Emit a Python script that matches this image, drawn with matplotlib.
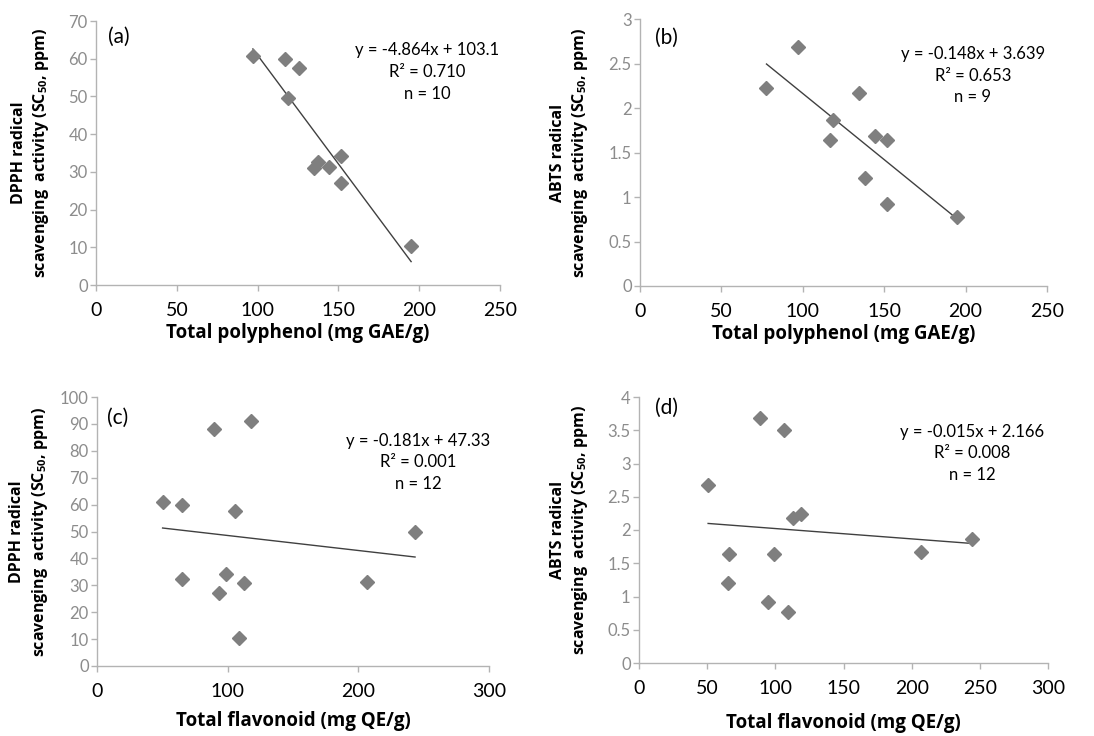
import numpy as np
import matplotlib
matplotlib.use('Agg')
import matplotlib.pyplot as plt
from matplotlib.ticker import FuncFormatter

plt.rcParams['font.family'] = ['Lato', 'DejaVu Sans']
plt.rcParams['mathtext.fontset'] = 'custom'
plt.rcParams['mathtext.rm'] = 'Open Sans'
plt.rcParams['mathtext.bf'] = 'Open Sans:bold'

# (a) 总多酚 vs DPPH
poly_a = [97.1, 116.7, 125.8, 118.8, 134.9, 137.6, 144.4, 151.9, 151.4, 195.0]
dpph_a = [60.6, 59.8, 57.5, 49.7, 31.1, 32.5, 31.2, 34.2, 27.0, 10.4]
# (b) 总多酚 vs ABTS
poly_b = [77.7, 96.8, 118.7, 116.6, 134.6, 144.2, 152.0, 138.1, 151.6, 194.6]
abts_b = [2.23, 2.68, 1.86, 1.64, 2.17, 1.68, 1.64, 1.21, 0.92, 0.77]
# (c) 总黄酮 vs DPPH
flav_c = [50.2, 65.4, 64.9, 89.9, 118.2, 105.9, 98.5, 93.7, 112.3, 109.0, 206.5, 243.4]
dpph_c = [60.8, 60.0, 32.5, 88.0, 91.0, 57.7, 34.2, 27.0, 31.0, 10.3, 31.2, 49.7]
# (d) 总黄酮 vs ABTS
flav_d = [50.7, 65.9, 65.1, 88.9, 106.5, 98.7, 94.5, 109.5, 112.7, 118.5, 207.0, 244.2]
abts_d = [2.68, 1.64, 1.21, 3.69, 3.50, 1.64, 0.92, 0.77, 2.18, 2.24, 1.67, 1.87]

eqs = ['y = -4.864x + 103.1\nR² = 0.710\nn = 10',
       'y = -0.148x + 3.639\nR² = 0.653\nn = 9',
       'y = -0.181x + 47.33\nR² = 0.001\nn = 12',
       'y = -0.015x + 2.166\nR² = 0.008\nn = 12']
tags = ['(a)', '(b)', '(c)', '(d)']

dpph_label = 'DPPH radical\nscavenging  activity (SC$_{\\mathbf{50}}$, ppm)'
abts_label = 'ABTS radical\nscavenging  activity (SC$_{\\mathbf{50}}$, ppm)'
xl_poly = 'Total polyphenol (mg GAE/g)'
xl_flav = 'Total flavonoid (mg QE/g)'

W, H = 1094, 736
# 各子图像素位置 (left, top, right, bottom)
boxes = [(96, 21, 500, 285), (640, 19, 1047, 286),
         (97, 397, 489, 666), (639, 397, 1048, 663)]

panels = [
    dict(x=poly_a, y=dpph_a, xlim=(0, 250), xstep=50, ylim=(0, 70), ystep=10,
         ylab=dpph_label, xlab=xl_poly, ylc=-0.112, xpad=3,
         eq=(0.819, 0.92), tag=(0.030, 0.939)),
    dict(x=poly_b, y=abts_b, xlim=(0, 250), xstep=50, ylim=(0, 3), ystep=0.5,
         ylab=abts_label, xlab=xl_poly, ylc=-0.123, xpad=3,
         eq=(0.818, 0.90), tag=(0.037, 0.929)),
    dict(x=flav_c, y=dpph_c, xlim=(0, 300), xstep=100, ylim=(0, 100), ystep=10,
         ylab=dpph_label, xlab=xl_flav, ylc=-0.121, xpad=8,
         eq=(0.819, 0.868), tag=(0.026, 0.922)),
    dict(x=flav_d, y=abts_d, xlim=(0, 300), xstep=50, ylim=(0, 4), ystep=0.5,
         ylab=abts_label, xlab=xl_flav, ylc=-0.120, xpad=12,
         eq=(0.815, 0.90), tag=(0.039, 0.959)),
]

fig = plt.figure(figsize=(W / 100, H / 100), dpi=100)

for i, p in enumerate(panels):
    l, t, r, b = boxes[i]
    ax = fig.add_axes([l / W, 1 - b / H, (r - l) / W, (b - t) / H])

    x = np.array(p['x'])
    y = np.array(p['y'])
    ax.plot(x, y, linestyle='none', marker='D', ms=6.8,
            color='#7f7f7f', mec='#7f7f7f', zorder=3)

    # 线性趋势线
    k, c = np.polyfit(x, y, 1)
    xs = np.array([x.min(), x.max()])
    ax.plot(xs, k * xs + c, color='#404040', lw=1.0, zorder=2)

    ax.set_xlim(*p['xlim'])
    ax.set_ylim(*p['ylim'])
    ax.set_xticks(np.arange(p['xlim'][0], p['xlim'][1] + 1e-9, p['xstep']))
    ax.set_yticks(np.arange(p['ylim'][0], p['ylim'][1] + 1e-9, p['ystep']))
    ax.yaxis.set_major_formatter(FuncFormatter(lambda v, pos: f'{v:g}'))

    for s in ['top', 'right']:
        ax.spines[s].set_visible(False)
    for s in ['left', 'bottom']:
        ax.spines[s].set_color('#b3b3b3')
        ax.spines[s].set_linewidth(1.0)
    ax.tick_params(axis='both', direction='out', length=4, width=1.0,
                   color='#b3b3b3')
    ax.tick_params(axis='y', labelsize=12, labelcolor='#8c8c8c', pad=2)
    ax.tick_params(axis='x', labelsize=14, labelcolor='black', pad=8)
    for lab in ax.get_yticklabels():
        lab.set_family(['Liberation Sans Narrow', 'Lato'])

    ax.set_ylabel(p['ylab'], fontsize=11.5, fontweight='bold',
                  family=['Open Sans', 'DejaVu Sans'], linespacing=1.3)
    ax.yaxis.set_label_coords(p['ylc'], 0.5)
    ax.set_xlabel(p['xlab'], fontsize=13.5, fontweight='bold',
                  family=['Open Sans', 'DejaVu Sans'], labelpad=p['xpad'])

    ax.text(p['tag'][0], p['tag'][1], tags[i], transform=ax.transAxes,
            fontsize=15, ha='left', va='center')
    ax.text(p['eq'][0], p['eq'][1], eqs[i], transform=ax.transAxes,
            fontsize=12, ha='center', va='top', linespacing=1.45)

fig.savefig('out.png', dpi=100)
